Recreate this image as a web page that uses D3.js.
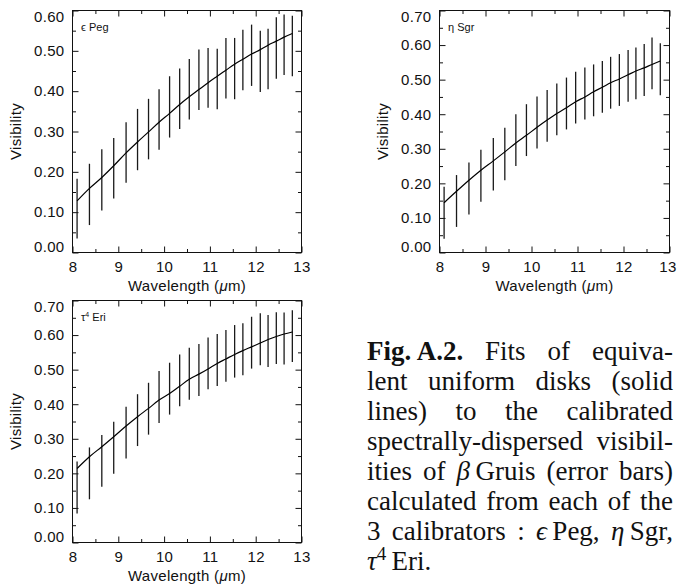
<!DOCTYPE html>
<html>
<head>
<meta charset="utf-8">
<script src="https://cdn.jsdelivr.net/npm/d3@7"></script>
<style>
  body { margin: 0; background: #fff; }
  svg { display: block; }
  .tick text { font-family: "Liberation Sans", Arial, sans-serif; font-size: 15px; fill: #111; letter-spacing: 0.3px; }
  .tick line { stroke: #111; }
  .domain { display: none; }
</style>
</head>
<body>
<svg width="677" height="584"></svg>
<script>
// wavelengths of the spectral channels (micron), shared by the three panels
const wavelength = [8.10, 8.37, 8.64, 8.90, 9.17, 9.42, 9.66, 9.89, 10.12, 10.34, 10.55, 10.76,
                    10.96, 11.16, 11.35, 11.54, 11.72, 11.91, 12.10, 12.27, 12.45, 12.62, 12.80];

// eps Peg
const pegVis = [0.109, 0.144, 0.180, 0.209, 0.248, 0.280, 0.306, 0.330, 0.361, 0.381, 0.405, 0.428,
                0.433, 0.430, 0.457, 0.456, 0.477, 0.489, 0.474, 0.480, 0.507, 0.515, 0.512];
const pegErr = [0.074, 0.076, 0.076, 0.075, 0.075, 0.076, 0.075, 0.075, 0.076, 0.075, 0.075, 0.075,
                0.074, 0.075, 0.075, 0.076, 0.075, 0.076, 0.076, 0.075, 0.076, 0.075, 0.075];
const pegFit = [0.128, 0.159, 0.186, 0.215, 0.247, 0.274, 0.299, 0.323, 0.345, 0.367, 0.386, 0.404,
                0.421, 0.437, 0.452, 0.467, 0.479, 0.492, 0.503, 0.514, 0.524, 0.534, 0.543];

// eta Sgr
const sgrVis = [0.115, 0.149, 0.185, 0.222, 0.255, 0.285, 0.325, 0.354, 0.376, 0.395, 0.414, 0.431,
                0.448, 0.460, 0.469, 0.479, 0.491, 0.499, 0.511, 0.518, 0.528, 0.547, 0.530];
const sgrErr = [0.075, 0.075, 0.075, 0.075, 0.076, 0.076, 0.075, 0.075, 0.075, 0.075, 0.075, 0.075,
                0.075, 0.075, 0.075, 0.075, 0.075, 0.075, 0.075, 0.075, 0.075, 0.075, 0.075];
const sgrFit = [0.144, 0.177, 0.209, 0.238, 0.265, 0.291, 0.317, 0.339, 0.362, 0.383, 0.402, 0.419,
                0.436, 0.450, 0.465, 0.478, 0.491, 0.502, 0.514, 0.525, 0.534, 0.544, 0.554];

// tau4 Eri
const eriVis = [0.159, 0.200, 0.236, 0.274, 0.318, 0.354, 0.387, 0.421, 0.445, 0.469, 0.488, 0.499,
                0.518, 0.528, 0.540, 0.553, 0.559, 0.578, 0.588, 0.583, 0.591, 0.590, 0.597];
const eriErr = [0.075, 0.075, 0.075, 0.075, 0.075, 0.075, 0.075, 0.075, 0.075, 0.075, 0.075, 0.075,
                0.075, 0.075, 0.075, 0.076, 0.075, 0.075, 0.075, 0.075, 0.075, 0.075, 0.075];
const eriFit = [0.214, 0.248, 0.277, 0.306, 0.337, 0.364, 0.388, 0.412, 0.431, 0.452, 0.472, 0.487,
                0.502, 0.518, 0.531, 0.544, 0.555, 0.566, 0.577, 0.587, 0.596, 0.603, 0.609];

const xTicks = [8, 9, 10, 11, 12, 13];
const xMinor = [8.5, 9.5, 10.5, 11.5, 12.5];
const yTicks6 = [0, 0.1, 0.2, 0.3, 0.4, 0.5, 0.6];
const yTicks7 = [0, 0.1, 0.2, 0.3, 0.4, 0.5, 0.6, 0.7];
const yMinor = [0.05, 0.15, 0.25, 0.35, 0.45, 0.55, 0.65];

const captionLines = [
  "**Fig.~A.2.** Fits of equiva-",
  "lent uniform disks (solid",
  "lines) to the calibrated",
  "spectrally-dispersed visibil-",
  "ities of _β_~Gruis (error bars)",
  "calculated from each of the",
  "3 calibrators : _ϵ_~Peg, _η_~Sgr,",
  "_τ_^4^~Eri."
];

const W = 677;
const svg = d3.select("svg");

// panel layout
const panels = [
  { left: 72.5, right: 301.5, top: 10.5, bottom: 252.5, yMax: 0.6, yTicks: yTicks6,
    star: ["ϵ", "", " Peg"], vis: pegVis, err: pegErr, fit: pegFit },
  { left: 439.5, right: 669.5, top: 10.5, bottom: 252.5, yMax: 0.7, yTicks: yTicks7,
    star: ["η", "", " Sgr"], vis: sgrVis, err: sgrErr, fit: sgrFit },
  { left: 72.5, right: 301.5, top: 300.5, bottom: 542.5, yMax: 0.7, yTicks: yTicks7,
    star: ["τ", "4", " Eri"], vis: eriVis, err: eriErr, fit: eriFit }
];

panels.forEach(drawPanel);

function drawPanel(p) {
  const x = d3.scaleLinear().domain([8, 13]).range([p.left, p.right]);
  const y = d3.scaleLinear().domain([0, p.yMax]).range([p.bottom, p.top]);
  const g = svg.append("g");
  const minorY = yMinor.filter(v => v < p.yMax);

  // bottom axis with labels, ticks pointing inward
  const xAx = g.append("g").attr("transform", `translate(0,${p.bottom})`)
    .call(d3.axisBottom(x).tickValues(xTicks).tickSize(-6).tickPadding(9).tickFormat(d3.format("d")));
  // last label would run off the page on the right-hand panel
  if (p.right + 10 > W) xAx.selectAll(".tick text").filter(d => d === 13).attr("dx", -2);
  g.append("g").attr("transform", `translate(0,${p.bottom})`)
    .call(d3.axisBottom(x).tickValues(xMinor).tickSize(-3.5).tickFormat(""));
  // top axis, ticks only
  g.append("g").attr("transform", `translate(0,${p.top})`)
    .call(d3.axisTop(x).tickValues(xTicks).tickSize(-6).tickFormat(""));
  g.append("g").attr("transform", `translate(0,${p.top})`)
    .call(d3.axisTop(x).tickValues(xMinor).tickSize(-3.5).tickFormat(""));

  // left axis with labels
  const yAx = g.append("g").attr("transform", `translate(${p.left},0)`)
    .call(d3.axisLeft(y).tickValues(p.yTicks).tickSize(-6).tickPadding(8).tickFormat(d3.format(".2f")));
  // keep the end labels inside the frame
  yAx.selectAll(".tick text")
    .attr("dy", d => d === 0 ? "-0.1em" : (d === p.yMax ? "0.72em" : "0.32em"));
  g.append("g").attr("transform", `translate(${p.left},0)`)
    .call(d3.axisLeft(y).tickValues(minorY).tickSize(-3.5).tickFormat(""));
  // right axis, ticks only
  g.append("g").attr("transform", `translate(${p.right},0)`)
    .call(d3.axisRight(y).tickValues(p.yTicks).tickSize(-6).tickFormat(""));
  g.append("g").attr("transform", `translate(${p.right},0)`)
    .call(d3.axisRight(y).tickValues(minorY).tickSize(-3.5).tickFormat(""));

  // frame
  g.append("rect")
    .attr("x", p.left).attr("y", p.top)
    .attr("width", p.right - p.left).attr("height", p.bottom - p.top)
    .attr("fill", "none").attr("stroke", "#111").attr("stroke-width", 1);

  // error bars
  g.append("g").selectAll("line")
    .data(wavelength)
    .join("line")
    .attr("x1", d => x(d)).attr("x2", d => x(d))
    .attr("y1", (d, i) => y(p.vis[i] - p.err[i]))
    .attr("y2", (d, i) => y(p.vis[i] + p.err[i]))
    .attr("stroke", "#1a1a1a").attr("stroke-width", 1.3);

  // uniform disk fit
  g.append("path")
    .datum(wavelength)
    .attr("fill", "none").attr("stroke", "#000").attr("stroke-width", 1.2)
    .attr("d", d3.line().x(d => x(d)).y((d, i) => y(p.fit[i])).curve(d3.curveMonotoneX));

  // star name
  const lab = g.append("text")
    .attr("x", p.left + 8.5).attr("y", p.top + 20)
    .style("font-family", '"Liberation Sans", Arial, sans-serif').style("font-size", "11px").attr("fill", "#111");
  lab.append("tspan").text(p.star[0]);
  if (p.star[1]) lab.append("tspan").attr("dy", -4).style("font-size", "7px").text(p.star[1]);
  lab.append("tspan").attr("dy", p.star[1] ? 4 : 0).text(p.star[2]);

  // axis titles
  const xt = g.append("text")
    .attr("x", (p.left + p.right) / 2).attr("y", p.bottom + 38)
    .attr("text-anchor", "middle")
    .style("font-family", '"Liberation Sans", Arial, sans-serif').style("font-size", "15px")
    .style("letter-spacing", "0.3px").attr("fill", "#111");
  xt.append("tspan").text("Wavelength (");
  xt.append("tspan").style("font-style", "italic").text("μ");
  xt.append("tspan").text("m)");

  g.append("text")
    .attr("transform", `translate(${p.left - 57},${(p.top + p.bottom) / 2}) rotate(-90)`)
    .attr("text-anchor", "middle").attr("dy", "0.35em")
    .style("font-family", '"Liberation Sans", Arial, sans-serif').style("font-size", "15px")
    .style("letter-spacing", "0.3px").attr("fill", "#111")
    .text("Visibility");
}

// caption, justified like the journal text block
const capLeft = 367, capRight = 673, capTop = 360, capLead = 30;
const cap = svg.append("g")
  .style("font-family", '"Liberation Serif", "Times New Roman", serif')
  .style("font-size", "27px").attr("fill", "#111");

captionLines.forEach((line, li) => {
  const words = line.split(" ");
  const nodes = words.map(w => {
    const t = cap.append("text").attr("y", capTop + li * capLead);
    let sup = false;
    w.split(/(\*\*[^*]+\*\*|_[^_]+_|\^[^^]+\^)/).filter(s => s.length).forEach(s => {
      let txt = s, span;
      if (s.startsWith("**")) {
        txt = s.slice(2, -2);
        span = t.append("tspan").style("font-weight", "bold");
      } else if (s.startsWith("_")) {
        txt = s.slice(1, -1);
        span = t.append("tspan").style("font-style", "italic");
      } else if (s.startsWith("^")) {
        txt = s.slice(1, -1);
        span = t.append("tspan").attr("dy", -10).style("font-size", "19px");
        sup = true;
      } else {
        span = t.append("tspan");
        if (sup) { span.attr("dy", 10); sup = false; }
      }
      span.text(txt.replace(/~/g, "\u2009"));
    });
    return t;
  });
  const widths = nodes.map(n => n.node().getComputedTextLength());
  const total = d3.sum(widths);
  const last = li === captionLines.length - 1;
  const gap = (last || nodes.length < 2) ? 7 : (capRight - capLeft - total) / (nodes.length - 1);
  let cx = capLeft;
  nodes.forEach((n, i) => {
    n.attr("x", cx);
    cx += widths[i] + gap;
  });
});
</script>
</body>
</html>
